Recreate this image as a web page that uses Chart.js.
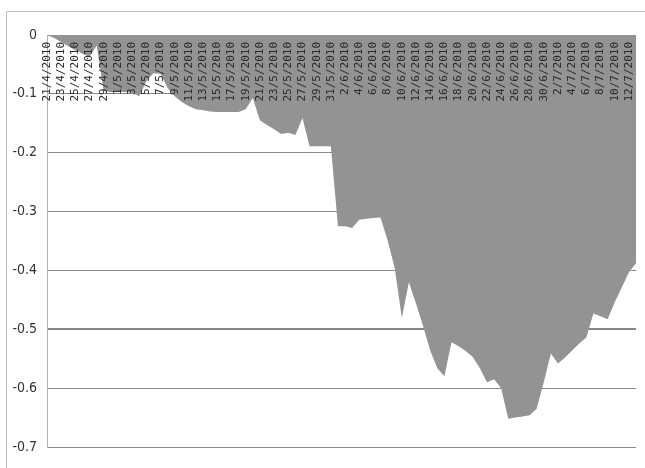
<!DOCTYPE html>
<html>
<head>
<meta charset="utf-8">
<script src="https://cdn.jsdelivr.net/npm/chart.js@4/dist/chart.umd.min.js"></script>
<style>
  html, body { margin: 0; padding: 0; background: #fff; }
  #wrap { position: relative; width: 645px; height: 468px; overflow: hidden; }
  #frame { position: absolute; left: 6px; top: 11px; width: 700px; height: 520px;
           border-left: 1px solid #bdbdbd; border-top: 1px solid #bdbdbd; pointer-events: none; }
  canvas { position: absolute; left: 0; top: 0; }
</style>
</head>
<body>
<div id="wrap">
  <div id="frame"></div>
  <canvas id="c" width="645" height="468"></canvas>
</div>
<script>
// Daily dates, 21 April to 13 July 2010
const dates = [
  '21/4/2010','22/4/2010','23/4/2010','24/4/2010','25/4/2010','26/4/2010','27/4/2010','28/4/2010','29/4/2010','30/4/2010',
  '1/5/2010','2/5/2010','3/5/2010','4/5/2010','5/5/2010','6/5/2010','7/5/2010','8/5/2010','9/5/2010','10/5/2010',
  '11/5/2010','12/5/2010','13/5/2010','14/5/2010','15/5/2010','16/5/2010','17/5/2010','18/5/2010','19/5/2010','20/5/2010',
  '21/5/2010','22/5/2010','23/5/2010','24/5/2010','25/5/2010','26/5/2010','27/5/2010','28/5/2010','29/5/2010','30/5/2010',
  '31/5/2010','1/6/2010','2/6/2010','3/6/2010','4/6/2010','5/6/2010','6/6/2010','7/6/2010','8/6/2010','9/6/2010',
  '10/6/2010','11/6/2010','12/6/2010','13/6/2010','14/6/2010','15/6/2010','16/6/2010','17/6/2010','18/6/2010','19/6/2010',
  '20/6/2010','21/6/2010','22/6/2010','23/6/2010','24/6/2010','25/6/2010','26/6/2010','27/6/2010','28/6/2010','29/6/2010',
  '30/6/2010','1/7/2010','2/7/2010','3/7/2010','4/7/2010','5/7/2010','6/7/2010','7/7/2010','8/7/2010','9/7/2010',
  '10/7/2010','11/7/2010','12/7/2010','13/7/2010'
];

// Drawdown per day
const drawdown = [
   0.000, -0.005, -0.012, -0.019, -0.026, -0.032, -0.037, -0.018, -0.095, -0.097,
  -0.097, -0.097, -0.098, -0.104, -0.078, -0.065, -0.066, -0.090, -0.104, -0.114,
  -0.121, -0.126, -0.128, -0.130, -0.131, -0.131, -0.131, -0.131, -0.126, -0.107,
  -0.145, -0.153, -0.160, -0.168, -0.166, -0.170, -0.141, -0.189, -0.189, -0.189,
  -0.189, -0.325, -0.325, -0.328, -0.314, -0.312, -0.311, -0.310, -0.349, -0.396,
  -0.481, -0.420, -0.456, -0.495, -0.536, -0.566, -0.580, -0.522, -0.529, -0.537,
  -0.547, -0.566, -0.590, -0.585, -0.600, -0.652, -0.650, -0.648, -0.646, -0.635,
  -0.590, -0.541, -0.558, -0.548, -0.536, -0.524, -0.514, -0.473, -0.478, -0.483,
  -0.454, -0.429, -0.403, -0.388
];

// Value axis range and step
const yMin = -0.7, yMax = 0, yStep = 0.1;

new Chart(document.getElementById('c'), {
  type: 'line',
  data: {
    labels: dates,
    datasets: [{
      data: drawdown,
      fill: 'origin',
      backgroundColor: '#939393',
      borderWidth: 0,
      borderColor: 'rgba(0,0,0,0)',
      pointRadius: 0,
      tension: 0
    }]
  },
  options: {
    responsive: false,
    animation: false,
    layout: { padding: { left: 0, top: 35, right: 9, bottom: 21 } },
    plugins: { legend: { display: false }, tooltip: { enabled: false } },
    scales: {
      x: {
        type: 'category',
        position: { y: 0 },
        offset: false,
        afterFit: (s) => {
          s.height = 0;
          s.paddingLeft = 0; s.paddingRight = 0; s.paddingTop = 0; s.paddingBottom = 0;
        },
        grid: { display: false, drawTicks: false },
        border: { display: false },
        ticks: {
          z: 1,
          autoSkip: false,
          minRotation: 90,
          maxRotation: 90,
          padding: 7,
          color: '#2a2a2a',
          font: { family: '"DejaVu Sans Mono", monospace', size: 11 },
          callback: (v, i) => (i % 2 === 0 ? dates[i] : '')
        }
      },
      y: {
        min: yMin,
        max: yMax,
        afterFit: (s) => { s.width = 47; },
        grid: {
          color: '#878787',
          lineWidth: (c) => (c.tick && Math.abs(c.tick.value + 0.5) < 1e-6 ? 2 : 1),
          drawTicks: false
        },
        border: { display: true, color: '#b0b0b0', width: 1 },
        ticks: {
          stepSize: yStep,
          padding: 10,
          color: '#333',
          font: { family: '"Liberation Sans Narrow", "DejaVu Sans Condensed", sans-serif', size: 14 },
          callback: (v) => (Math.abs(v) < 1e-9 ? '0' : String(Number(v.toFixed(1))))
        }
      }
    }
  }
});
</script>
</body>
</html>
